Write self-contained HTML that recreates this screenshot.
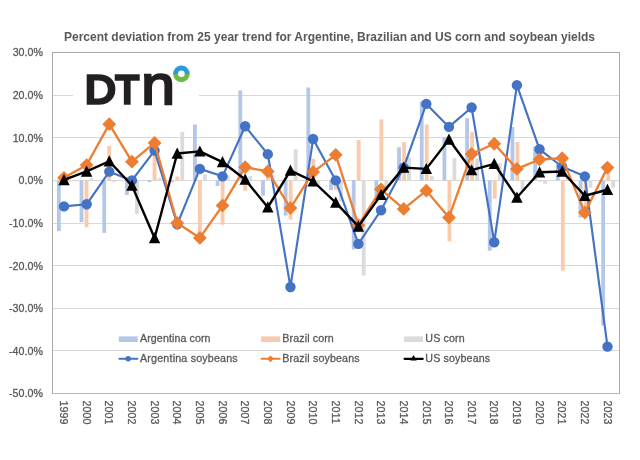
<!DOCTYPE html>
<html><head><meta charset="utf-8"><title>Percent deviation from 25 year trend</title>
<style>
html,body{margin:0;padding:0;background:#fff;}
body{width:640px;height:460px;overflow:hidden;}
svg{display:block;font-family:"Liberation Sans",Arial,sans-serif;}
.ax{font-size:10.67px;fill:#595959;stroke:#595959;stroke-width:0.3px;letter-spacing:0.05px;}
.lg{font-size:10.67px;fill:#595959;stroke:#595959;stroke-width:0.3px;}
.ti{font-size:12px;font-weight:bold;fill:#595959;}
</style></head><body>
<svg width="640" height="460" viewBox="0 0 640 460">
<rect x="0" y="0" width="640" height="460" fill="#fff"/>

<g stroke="#d9d9d9" stroke-width="1" shape-rendering="crispEdges">
<line x1="52.5" x2="619.5" y1="350.5" y2="350.5"/>
<line x1="52.5" x2="619.5" y1="308.5" y2="308.5"/>
<line x1="52.5" x2="619.5" y1="265.5" y2="265.5"/>
<line x1="52.5" x2="619.5" y1="223.5" y2="223.5"/>
<line x1="52.5" x2="619.5" y1="180.5" y2="180.5"/>
<line x1="52.5" x2="619.5" y1="137.5" y2="137.5"/>
<line x1="52.5" x2="619.5" y1="95.5" y2="95.5"/>
</g>
<g fill="#b4c7e7">
<rect x="56.94" y="180.40" width="3.80" height="50.72"/>
<rect x="79.62" y="180.40" width="3.80" height="41.77"/>
<rect x="102.30" y="180.40" width="3.80" height="52.43"/>
<rect x="124.98" y="180.40" width="3.80" height="14.49"/>
<rect x="147.66" y="180.40" width="3.80" height="1.71"/>
<rect x="170.34" y="180.40" width="3.80" height="1.71"/>
<rect x="193.02" y="124.56" width="3.80" height="55.84"/>
<rect x="215.70" y="180.40" width="3.80" height="5.54"/>
<rect x="238.38" y="90.46" width="3.80" height="89.94"/>
<rect x="261.06" y="180.40" width="3.80" height="15.34"/>
<rect x="283.74" y="180.40" width="3.80" height="35.17"/>
<rect x="306.42" y="87.48" width="3.80" height="92.92"/>
<rect x="329.10" y="180.40" width="3.80" height="9.80"/>
<rect x="351.78" y="180.40" width="3.80" height="69.05"/>
<rect x="374.46" y="180.40" width="3.80" height="15.77"/>
<rect x="397.14" y="147.15" width="3.80" height="33.25"/>
<rect x="419.82" y="101.54" width="3.80" height="78.86"/>
<rect x="442.50" y="137.14" width="3.80" height="43.26"/>
<rect x="465.18" y="118.17" width="3.80" height="62.23"/>
<rect x="487.86" y="180.40" width="3.80" height="70.33"/>
<rect x="510.54" y="127.12" width="3.80" height="53.28"/>
<rect x="533.22" y="146.30" width="3.80" height="34.10"/>
<rect x="555.90" y="163.78" width="3.80" height="16.62"/>
<rect x="578.58" y="180.40" width="3.80" height="37.08"/>
<rect x="601.26" y="180.40" width="3.80" height="145.14"/>
</g>
<g fill="#f8cbad">
<rect x="61.94" y="178.27" width="3.80" height="2.13"/>
<rect x="84.62" y="180.40" width="3.80" height="46.89"/>
<rect x="107.30" y="145.87" width="3.80" height="34.53"/>
<rect x="129.98" y="177.84" width="3.80" height="2.56"/>
<rect x="152.66" y="145.02" width="3.80" height="35.38"/>
<rect x="175.34" y="176.56" width="3.80" height="3.84"/>
<rect x="198.02" y="180.40" width="3.80" height="55.41"/>
<rect x="220.70" y="180.40" width="3.80" height="44.33"/>
<rect x="243.38" y="180.40" width="3.80" height="10.23"/>
<rect x="266.06" y="171.88" width="3.80" height="8.53"/>
<rect x="288.74" y="180.40" width="3.80" height="39.22"/>
<rect x="311.42" y="158.66" width="3.80" height="21.74"/>
<rect x="334.10" y="180.40" width="3.80" height="9.38"/>
<rect x="356.78" y="140.12" width="3.80" height="40.28"/>
<rect x="379.46" y="119.45" width="3.80" height="60.95"/>
<rect x="402.14" y="142.04" width="3.80" height="38.36"/>
<rect x="424.82" y="124.56" width="3.80" height="55.84"/>
<rect x="447.50" y="180.40" width="3.80" height="60.95"/>
<rect x="470.18" y="132.23" width="3.80" height="48.17"/>
<rect x="492.86" y="180.40" width="3.80" height="18.33"/>
<rect x="515.54" y="142.04" width="3.80" height="38.36"/>
<rect x="538.22" y="180.40" width="3.80" height="1.28"/>
<rect x="560.90" y="180.40" width="3.80" height="90.15"/>
<rect x="583.58" y="180.40" width="3.80" height="34.10"/>
<rect x="606.26" y="169.74" width="3.80" height="10.66"/>
</g>
<g fill="#dbdbdb">
<rect x="66.94" y="180.40" width="3.80" height="1.28"/>
<rect x="89.62" y="178.27" width="3.80" height="2.13"/>
<rect x="112.30" y="180.40" width="3.80" height="1.71"/>
<rect x="134.98" y="180.40" width="3.80" height="33.67"/>
<rect x="157.66" y="178.27" width="3.80" height="2.13"/>
<rect x="180.34" y="131.81" width="3.80" height="48.59"/>
<rect x="203.02" y="174.43" width="3.80" height="5.97"/>
<rect x="225.70" y="175.28" width="3.80" height="5.12"/>
<rect x="248.38" y="176.14" width="3.80" height="4.26"/>
<rect x="271.06" y="175.28" width="3.80" height="5.12"/>
<rect x="293.74" y="149.28" width="3.80" height="31.12"/>
<rect x="316.42" y="180.40" width="3.80" height="5.54"/>
<rect x="339.10" y="180.40" width="3.80" height="20.89"/>
<rect x="361.78" y="180.40" width="3.80" height="95.05"/>
<rect x="384.46" y="180.40" width="3.80" height="7.25"/>
<rect x="407.14" y="157.60" width="3.80" height="22.80"/>
<rect x="429.82" y="176.14" width="3.80" height="4.26"/>
<rect x="452.50" y="158.24" width="3.80" height="22.16"/>
<rect x="475.18" y="158.24" width="3.80" height="22.16"/>
<rect x="497.86" y="163.14" width="3.80" height="17.26"/>
<rect x="520.54" y="180.40" width="3.80" height="9.80"/>
<rect x="543.22" y="180.40" width="3.80" height="3.41"/>
<rect x="565.90" y="176.14" width="3.80" height="4.26"/>
<rect x="588.58" y="180.40" width="3.80" height="7.25"/>
<rect x="611.26" y="180.40" width="3.80" height="7.25"/>
</g>
<rect x="73" y="57" width="126" height="56" fill="#fff"/>
<g stroke="#ababab" stroke-width="1" fill="none" shape-rendering="crispEdges"><path d="M52.5 393.5V52.5H619.5V393.5"/></g>
<line x1="52.5" x2="619.5" y1="393.5" y2="393.5" stroke="#b5b5b5" stroke-width="1" shape-rendering="crispEdges"/>
<polyline points="64.00,206.40 86.64,204.27 109.29,171.66 131.94,180.40 154.58,150.56 177.22,224.30 199.87,168.89 222.51,176.35 245.16,126.27 267.81,154.19 290.45,286.96 313.10,139.05 335.74,180.40 358.38,243.91 381.03,210.24 403.68,167.61 426.32,103.89 448.96,126.91 471.61,107.51 494.25,242.21 516.90,85.13 539.55,149.28 562.19,166.76 584.84,176.35 607.48,346.64" fill="none" stroke="#4472c4" stroke-width="2.15" stroke-linejoin="round" stroke-linecap="round"/>
<g fill="#4472c4">
<circle cx="64.00" cy="206.40" r="5.2"/>
<circle cx="86.64" cy="204.27" r="5.2"/>
<circle cx="109.29" cy="171.66" r="5.2"/>
<circle cx="131.94" cy="180.40" r="5.2"/>
<circle cx="154.58" cy="150.56" r="5.2"/>
<circle cx="177.22" cy="224.30" r="5.2"/>
<circle cx="199.87" cy="168.89" r="5.2"/>
<circle cx="222.51" cy="176.35" r="5.2"/>
<circle cx="245.16" cy="126.27" r="5.2"/>
<circle cx="267.81" cy="154.19" r="5.2"/>
<circle cx="290.45" cy="286.96" r="5.2"/>
<circle cx="313.10" cy="139.05" r="5.2"/>
<circle cx="335.74" cy="180.40" r="5.2"/>
<circle cx="358.38" cy="243.91" r="5.2"/>
<circle cx="381.03" cy="210.24" r="5.2"/>
<circle cx="403.68" cy="167.61" r="5.2"/>
<circle cx="426.32" cy="103.89" r="5.2"/>
<circle cx="448.96" cy="126.91" r="5.2"/>
<circle cx="471.61" cy="107.51" r="5.2"/>
<circle cx="494.25" cy="242.21" r="5.2"/>
<circle cx="516.90" cy="85.13" r="5.2"/>
<circle cx="539.55" cy="149.28" r="5.2"/>
<circle cx="562.19" cy="166.76" r="5.2"/>
<circle cx="584.84" cy="176.35" r="5.2"/>
<circle cx="607.48" cy="346.64" r="5.2"/>
</g>
<polyline points="64.00,177.84 86.64,165.06 109.29,124.14 131.94,161.65 154.58,142.89 177.22,223.03 199.87,237.94 222.51,205.55 245.16,167.19 267.81,171.45 290.45,208.11 313.10,172.09 335.74,154.82 358.38,225.16 381.03,189.35 403.68,208.96 426.32,190.63 448.96,217.48 471.61,153.97 494.25,143.74 516.90,168.89 539.55,159.51 562.19,158.24 584.84,212.58 607.48,167.61" fill="none" stroke="#ed7d31" stroke-width="2.3" stroke-linejoin="round" stroke-linecap="round"/>
<g fill="#ed7d31">
<path d="M64.00 170.94L70.90 177.84L64.00 184.74L57.10 177.84Z"/>
<path d="M86.64 158.16L93.55 165.06L86.64 171.96L79.74 165.06Z"/>
<path d="M109.29 117.23L116.19 124.14L109.29 131.03L102.39 124.14Z"/>
<path d="M131.94 154.75L138.84 161.65L131.94 168.55L125.03 161.65Z"/>
<path d="M154.58 135.99L161.48 142.89L154.58 149.79L147.68 142.89Z"/>
<path d="M177.22 216.12L184.12 223.03L177.22 229.93L170.32 223.03Z"/>
<path d="M199.87 231.04L206.77 237.94L199.87 244.84L192.97 237.94Z"/>
<path d="M222.51 198.65L229.41 205.55L222.51 212.45L215.61 205.55Z"/>
<path d="M245.16 160.29L252.06 167.19L245.16 174.09L238.26 167.19Z"/>
<path d="M267.81 164.55L274.70 171.45L267.81 178.35L260.91 171.45Z"/>
<path d="M290.45 201.21L297.35 208.11L290.45 215.01L283.55 208.11Z"/>
<path d="M313.10 165.19L320.00 172.09L313.10 178.99L306.20 172.09Z"/>
<path d="M335.74 147.92L342.64 154.82L335.74 161.72L328.84 154.82Z"/>
<path d="M358.38 218.26L365.28 225.16L358.38 232.06L351.49 225.16Z"/>
<path d="M381.03 182.45L387.93 189.35L381.03 196.25L374.13 189.35Z"/>
<path d="M403.68 202.06L410.57 208.96L403.68 215.86L396.78 208.96Z"/>
<path d="M426.32 183.73L433.22 190.63L426.32 197.53L419.42 190.63Z"/>
<path d="M448.96 210.58L455.86 217.48L448.96 224.38L442.06 217.48Z"/>
<path d="M471.61 147.07L478.51 153.97L471.61 160.87L464.71 153.97Z"/>
<path d="M494.25 136.84L501.15 143.74L494.25 150.64L487.36 143.74Z"/>
<path d="M516.90 161.99L523.80 168.89L516.90 175.79L510.00 168.89Z"/>
<path d="M539.55 152.61L546.45 159.51L539.55 166.41L532.65 159.51Z"/>
<path d="M562.19 151.34L569.09 158.24L562.19 165.14L555.29 158.24Z"/>
<path d="M584.84 205.68L591.74 212.58L584.84 219.48L577.94 212.58Z"/>
<path d="M607.48 160.71L614.38 167.61L607.48 174.51L600.58 167.61Z"/>
</g>
<polyline points="64.00,179.97 86.64,171.45 109.29,161.22 131.94,185.52 154.58,237.94 177.22,153.55 199.87,151.42 222.51,162.07 245.16,179.55 267.81,207.25 290.45,170.60 313.10,181.25 335.74,202.56 358.38,226.44 381.03,194.89 403.68,167.61 426.32,168.89 448.96,139.48 471.61,170.17 494.25,163.78 516.90,197.45 539.55,172.30 562.19,171.45 584.84,195.75 607.48,189.78" fill="none" stroke="#000" stroke-width="2.4" stroke-linejoin="round" stroke-linecap="round"/>
<g fill="#000">
<path d="M64.00 173.97L69.70 185.17L58.30 185.17Z"/>
<path d="M86.64 165.45L92.34 176.65L80.94 176.65Z"/>
<path d="M109.29 155.22L114.99 166.42L103.59 166.42Z"/>
<path d="M131.94 179.52L137.63 190.72L126.23 190.72Z"/>
<path d="M154.58 231.94L160.28 243.14L148.88 243.14Z"/>
<path d="M177.22 147.55L182.92 158.75L171.53 158.75Z"/>
<path d="M199.87 145.42L205.57 156.62L194.17 156.62Z"/>
<path d="M222.51 156.07L228.21 167.27L216.81 167.27Z"/>
<path d="M245.16 173.55L250.86 184.75L239.46 184.75Z"/>
<path d="M267.81 201.25L273.50 212.45L262.11 212.45Z"/>
<path d="M290.45 164.60L296.15 175.80L284.75 175.80Z"/>
<path d="M313.10 175.25L318.80 186.45L307.40 186.45Z"/>
<path d="M335.74 196.56L341.44 207.76L330.04 207.76Z"/>
<path d="M358.38 220.44L364.08 231.63L352.69 231.63Z"/>
<path d="M381.03 188.89L386.73 200.09L375.33 200.09Z"/>
<path d="M403.68 161.61L409.38 172.81L397.98 172.81Z"/>
<path d="M426.32 162.89L432.02 174.09L420.62 174.09Z"/>
<path d="M448.96 133.48L454.66 144.68L443.26 144.68Z"/>
<path d="M471.61 164.17L477.31 175.37L465.91 175.37Z"/>
<path d="M494.25 157.78L499.95 168.98L488.56 168.98Z"/>
<path d="M516.90 191.45L522.60 202.65L511.20 202.65Z"/>
<path d="M539.55 166.30L545.25 177.50L533.85 177.50Z"/>
<path d="M562.19 165.45L567.89 176.65L556.49 176.65Z"/>
<path d="M584.84 189.75L590.54 200.94L579.13 200.94Z"/>
<path d="M607.48 183.78L613.18 194.98L601.78 194.98Z"/>
</g>
<text class="ax" x="43.1" y="397.42" text-anchor="end">-50.0%</text>
<text class="ax" x="43.1" y="354.80" text-anchor="end">-40.0%</text>
<text class="ax" x="43.1" y="312.17" text-anchor="end">-30.0%</text>
<text class="ax" x="43.1" y="269.55" text-anchor="end">-20.0%</text>
<text class="ax" x="43.1" y="226.93" text-anchor="end">-10.0%</text>
<text class="ax" x="43.1" y="184.30" text-anchor="end">0.0%</text>
<text class="ax" x="43.1" y="141.68" text-anchor="end">10.0%</text>
<text class="ax" x="43.1" y="99.05" text-anchor="end">20.0%</text>
<text class="ax" x="43.1" y="56.43" text-anchor="end">30.0%</text>
<text class="ax" transform="translate(60.20,400.5) rotate(90)">1999</text>
<text class="ax" transform="translate(82.84,400.5) rotate(90)">2000</text>
<text class="ax" transform="translate(105.49,400.5) rotate(90)">2001</text>
<text class="ax" transform="translate(128.13,400.5) rotate(90)">2002</text>
<text class="ax" transform="translate(150.78,400.5) rotate(90)">2003</text>
<text class="ax" transform="translate(173.42,400.5) rotate(90)">2004</text>
<text class="ax" transform="translate(196.07,400.5) rotate(90)">2005</text>
<text class="ax" transform="translate(218.71,400.5) rotate(90)">2006</text>
<text class="ax" transform="translate(241.36,400.5) rotate(90)">2007</text>
<text class="ax" transform="translate(264.00,400.5) rotate(90)">2008</text>
<text class="ax" transform="translate(286.65,400.5) rotate(90)">2009</text>
<text class="ax" transform="translate(309.30,400.5) rotate(90)">2010</text>
<text class="ax" transform="translate(331.94,400.5) rotate(90)">2011</text>
<text class="ax" transform="translate(354.58,400.5) rotate(90)">2012</text>
<text class="ax" transform="translate(377.23,400.5) rotate(90)">2013</text>
<text class="ax" transform="translate(399.88,400.5) rotate(90)">2014</text>
<text class="ax" transform="translate(422.52,400.5) rotate(90)">2015</text>
<text class="ax" transform="translate(445.16,400.5) rotate(90)">2016</text>
<text class="ax" transform="translate(467.81,400.5) rotate(90)">2017</text>
<text class="ax" transform="translate(490.45,400.5) rotate(90)">2018</text>
<text class="ax" transform="translate(513.10,400.5) rotate(90)">2019</text>
<text class="ax" transform="translate(535.75,400.5) rotate(90)">2020</text>
<text class="ax" transform="translate(558.39,400.5) rotate(90)">2021</text>
<text class="ax" transform="translate(581.04,400.5) rotate(90)">2022</text>
<text class="ax" transform="translate(603.68,400.5) rotate(90)">2023</text>
<text class="ti" x="64" y="40.6">Percent deviation from 25 year trend for Argentine, Brazilian and US corn and soybean yields</text>
<rect x="118.8" y="336.4" width="18.9" height="5.6" fill="#b4c7e7"/>
<text class="lg" x="140.0" y="342.3" letter-spacing="0.092">Argentina corn</text>
<rect x="261.1" y="336.4" width="18.9" height="5.6" fill="#f8cbad"/>
<text class="lg" x="282.3" y="342.3" letter-spacing="0.114">Brazil corn</text>
<rect x="404.1" y="336.4" width="18.9" height="5.6" fill="#dbdbdb"/>
<text class="lg" x="425.3" y="342.3" letter-spacing="0.157">US corn</text>
<line x1="119.3" x2="137.4" y1="358.8" y2="358.8" stroke="#4472c4" stroke-width="1.9" stroke-linecap="round"/>
<circle cx="128.2" cy="358.8" r="2.7" fill="#4472c4"/>
<text class="lg" x="140.0" y="361.6" letter-spacing="0.206">Argentina soybeans</text>
<line x1="261.6" x2="279.70000000000005" y1="358.8" y2="358.8" stroke="#ed7d31" stroke-width="2.0" stroke-linecap="round"/>
<path d="M270.5 355.40000000000003L273.9 358.8L270.5 362.2L267.1 358.8Z" fill="#ed7d31"/>
<text class="lg" x="282.3" y="361.6" letter-spacing="0.145">Brazil soybeans</text>
<line x1="404.6" x2="422.70000000000005" y1="358.8" y2="358.8" stroke="#000" stroke-width="2.3" stroke-linecap="round"/>
<path d="M413.5 354.90000000000003L416.7 360.6L410.3 360.6Z" fill="#000"/>
<text class="lg" x="425.3" y="361.6" letter-spacing="0.146">US soybeans</text>
<g id="logo" fill="#231f20" stroke="#231f20" stroke-linejoin="miter" style="font-family:'Liberation Sans',Arial,sans-serif">
<text transform="translate(84.9,102.9) scale(1.08,1)" font-size="39.3" stroke-width="3.3">D</text>
<text transform="translate(115.6,102.9) scale(0.98,1)" font-size="39.3" stroke-width="3.3">T</text>
<text transform="translate(141.2,103.6) scale(1.085,1)" font-size="55.8" stroke-width="2.3">n</text>
</g>
<path d="M173.1 73.9A8.3 8.3 0 0 1 189.7 73.9Z" fill="#2b9bd8"/>
<path d="M173.1 73.9A8.3 8.3 0 0 0 189.7 73.9Z" fill="#6cbb45"/>
<circle cx="181.4" cy="73.8" r="3.3" fill="#fff"/>

</svg></body></html>
